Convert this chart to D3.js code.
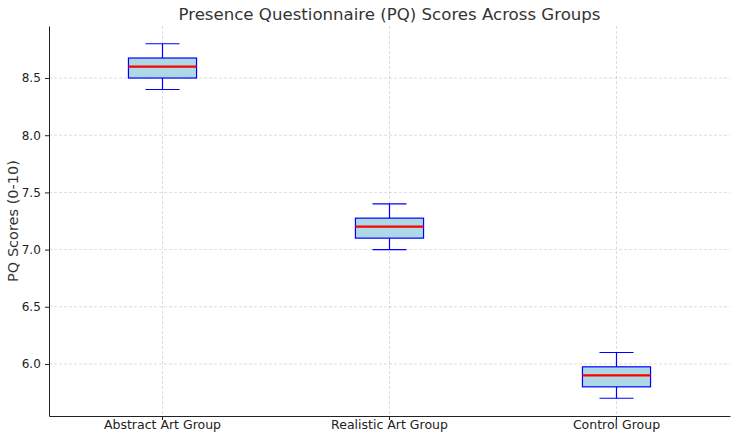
<!DOCTYPE html>
<html>
<head>
<meta charset="utf-8">
<script src="https://cdn.jsdelivr.net/npm/d3@7/dist/d3.min.js"></script>
<style>
  body { margin: 0; background: #fff; }
  svg { font-family: "DejaVu Sans", sans-serif; }
</style>
</head>
<body>
<div id="chart"></div>
<script>
// box summaries
var groups = ["Abstract Art Group", "Realistic Art Group", "Control Group"];
var whiskerLow = [8.4, 7.0, 5.7];
var q1 = [8.5, 7.1, 5.8];
var medians = [8.6, 7.2, 5.9];
var q3 = [8.675, 7.275, 5.975];
var whiskerHigh = [8.8, 7.4, 6.1];
var yTicks = [6.0, 6.5, 7.0, 7.5, 8.0, 8.5];

var svgWidth = 738;
var svgHeight = 440;
var margin = { top: 26, right: 8, bottom: 24, left: 49 };
var width = svgWidth - margin.left - margin.right;
var height = svgHeight - margin.top - margin.bottom;

var svg = d3.select("#chart")
  .append("svg")
  .attr("width", svgWidth)
  .attr("height", svgHeight);

var chartGroup = svg.append("g")
  .attr("transform", `translate(${margin.left}, ${margin.top})`);

var boxData = groups.map(function(g, i) {
  return { group: g, lo: whiskerLow[i], q1: q1[i], med: medians[i], q3: q3[i], hi: whiskerHigh[i] };
});

// x scale: one band per group, matplotlib style
var xScale = d3.scaleBand()
  .domain(groups)
  .range([0, width])
  .padding(0);

// y scale with 5% margins like matplotlib
var yMin = d3.min(whiskerLow), yMax = d3.max(whiskerHigh);
var pad = (yMax - yMin) * 0.05;
var yScale = d3.scaleLinear()
  .domain([yMin - pad, yMax + pad])
  .range([height, 0]);

// grid
chartGroup.append("g")
  .selectAll("line.hgrid")
  .data(yTicks)
  .enter()
  .append("line")
  .attr("x1", 0)
  .attr("x2", width)
  .attr("y1", d => yScale(d))
  .attr("y2", d => yScale(d))
  .attr("stroke", "#b0b0b0")
  .attr("stroke-width", 0.6)
  .attr("stroke-dasharray", "3,2")
  .attr("opacity", 0.7);

chartGroup.append("g")
  .selectAll("line.vgrid")
  .data(groups)
  .enter()
  .append("line")
  .attr("x1", d => xScale(d) + xScale.bandwidth() / 2)
  .attr("x2", d => xScale(d) + xScale.bandwidth() / 2)
  .attr("y1", 0)
  .attr("y2", height)
  .attr("stroke", "#b0b0b0")
  .attr("stroke-width", 0.6)
  .attr("stroke-dasharray", "3,2")
  .attr("opacity", 0.7);

// boxes
var boxW = xScale.bandwidth() * 0.3;
var capW = boxW / 2;
var boxes = chartGroup.selectAll(".box")
  .data(boxData)
  .enter()
  .append("g")
  .attr("class", "box")
  .attr("transform", d => `translate(${xScale(d.group) + xScale.bandwidth() / 2}, 0)`);

// whiskers
boxes.append("line")
  .attr("x1", 0).attr("x2", 0)
  .attr("y1", d => yScale(d.q3)).attr("y2", d => yScale(d.hi))
  .attr("stroke", "blue").attr("stroke-width", 1.2);
boxes.append("line")
  .attr("x1", 0).attr("x2", 0)
  .attr("y1", d => yScale(d.q1)).attr("y2", d => yScale(d.lo))
  .attr("stroke", "blue").attr("stroke-width", 1.2);
// caps
boxes.append("line")
  .attr("x1", -capW / 2).attr("x2", capW / 2)
  .attr("y1", d => yScale(d.hi)).attr("y2", d => yScale(d.hi))
  .attr("stroke", "blue").attr("stroke-width", 1.2);
boxes.append("line")
  .attr("x1", -capW / 2).attr("x2", capW / 2)
  .attr("y1", d => yScale(d.lo)).attr("y2", d => yScale(d.lo))
  .attr("stroke", "blue").attr("stroke-width", 1.2);

boxes.append("rect")
  .attr("x", -boxW / 2)
  .attr("width", boxW)
  .attr("y", d => yScale(d.q3))
  .attr("height", d => yScale(d.q1) - yScale(d.q3))
  .attr("fill", "#add8e6")
  .attr("stroke", "blue")
  .attr("stroke-width", 1.2);

boxes.append("line")
  .attr("x1", -boxW / 2).attr("x2", boxW / 2)
  .attr("y1", d => yScale(d.med)).attr("y2", d => yScale(d.med))
  .attr("stroke", "red").attr("stroke-width", 2.2);

// axes
var bottomAxis = d3.axisBottom(xScale).tickSize(4).tickSizeOuter(0);
var leftAxis = d3.axisLeft(yScale).tickValues(yTicks).tickFormat(d3.format(".1f")).tickSize(4).tickSizeOuter(0);

var xAxis = chartGroup.append("g")
  .attr("transform", `translate(0, ${height})`)
  .call(bottomAxis);
var yAxis = chartGroup.append("g")
  .call(leftAxis);

[xAxis, yAxis].forEach(function(ax) {
  ax.select(".domain").attr("stroke", "#222").attr("stroke-width", 1);
  ax.selectAll(".tick line").attr("stroke", "#222");
  ax.selectAll(".tick text")
    .attr("fill", "#222")
    .style("font-family", "DejaVu Sans");
});
xAxis.selectAll(".tick text").attr("dy", "0.5em").style("font-size", "12.5px");
yAxis.selectAll(".tick text").attr("dx", "-0.1em").style("font-size", "12px");

// title & label
svg.append("text")
  .attr("x", margin.left + width / 2)
  .attr("y", 20)
  .attr("text-anchor", "middle")
  .attr("fill", "#333")
  .style("font-size", "16.6px")
  .text("Presence Questionnaire (PQ) Scores Across Groups");

svg.append("text")
  .attr("transform", `translate(17.5, ${margin.top + height / 2}) rotate(-90)`)
  .attr("text-anchor", "middle")
  .attr("fill", "#333")
  .style("font-size", "14.5px")
  .text("PQ Scores (0-10)");
</script>
</body>
</html>
